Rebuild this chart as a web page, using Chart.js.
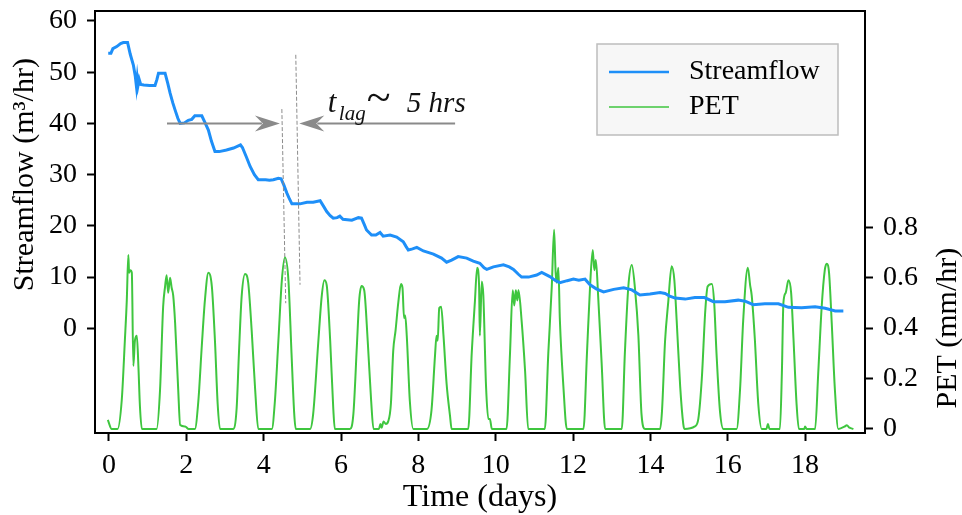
<!DOCTYPE html>
<html>
<head>
<meta charset="utf-8">
<title>Streamflow and PET</title>
<script src="https://cdn.jsdelivr.net/npm/chart.js@4/dist/chart.umd.min.js"></script>
<style>
  html, body { margin: 0; padding: 0; background: #fff; }
  #chart { display: block; }
</style>
</head>
<body>
<canvas id="chart" width="962" height="515"></canvas>
<script>
const SERIF = "'Liberation Serif', 'Times New Roman', serif";

// streamflow (m3/hr) against time in days
const flowDays = [
  -0.02, 0.05, 0.10, 0.20, 0.30, 0.37, 0.48, 0.55, 0.63, 0.68, 0.71, 0.73, 0.75, 0.78, 0.82, 0.90,
  1.05, 1.19, 1.24, 1.28, 1.45, 1.52, 1.58, 1.65, 1.71, 1.78, 1.84, 1.95, 2.05, 2.14, 2.22, 2.40,
  2.48, 2.57, 2.65, 2.74, 2.85, 3.04, 3.22, 3.40, 3.45, 3.55, 3.65, 3.76, 3.86, 4.05, 4.15, 4.25,
  4.38, 4.45, 4.52, 4.60, 4.67, 4.73, 4.94, 5.12, 5.28, 5.46, 5.55, 5.63, 5.72, 5.80, 5.90, 5.97,
  6.05, 6.28, 6.45, 6.53, 6.60, 6.66, 6.79, 6.90, 7.01, 7.09, 7.27, 7.44, 7.61, 7.68, 7.74, 7.85,
  7.96, 8.13, 8.39, 8.60, 8.73, 8.86, 9.03, 9.25, 9.42, 9.59, 9.70, 9.77, 9.94, 10.20, 10.35, 10.46,
  10.58, 10.67, 10.85, 11.06, 11.19, 11.40, 11.55, 11.66, 11.85, 12.01, 12.15, 12.31, 12.44, 12.60, 12.79, 13.05,
  13.31, 13.52, 13.73, 13.99, 14.25, 14.38, 14.50, 14.64, 14.90, 15.15, 15.40, 15.63, 15.93, 16.27, 16.45, 16.66,
  16.96, 17.31, 17.57, 17.91, 18.26, 18.52, 18.78, 18.99
];
const flowValues = [
  53.7, 53.7, 54.6, 55.0, 55.6, 55.8, 55.8, 53.5, 51.4, 49.2, 47.2, 48.8, 47.4, 48.6, 47.6, 47.5,
  47.4, 47.4, 48.6, 49.8, 49.8, 47.8, 45.9, 44.0, 42.6, 41.0, 40.0, 40.1, 40.6, 40.8, 41.5, 41.5,
  40.2, 38.7, 36.5, 34.5, 34.5, 34.8, 35.2, 35.8, 35.3, 33.5, 31.6, 30.0, 29.0, 29.0, 28.9, 29.0,
  29.3, 29.2, 28.0, 26.4, 25.2, 24.3, 24.3, 24.6, 24.6, 24.9, 23.8, 22.8, 22.0, 21.5, 21.6, 21.9,
  21.3, 21.1, 21.6, 21.5, 20.3, 19.2, 18.2, 18.2, 18.7, 18.0, 18.2, 17.8, 16.9, 16.0, 15.3, 15.5,
  15.8, 15.1, 14.5, 13.7, 12.9, 13.3, 14.0, 13.7, 13.1, 12.7, 11.8, 11.5, 12.0, 12.4, 12.0, 11.5,
  10.6, 10.0, 10.0, 10.4, 10.9, 10.1, 9.3, 8.9, 9.3, 9.6, 9.4, 9.6, 8.5, 7.7, 7.1, 7.6,
  7.9, 7.5, 6.5, 6.7, 7.0, 6.8, 6.3, 5.9, 5.7, 6.0, 6.0, 5.2, 5.2, 5.5, 5.3, 4.6,
  4.8, 4.8, 4.1, 4.0, 4.2, 3.9, 3.4, 3.4
];

// potential evapotranspiration (mm/hr), one row per day
const petDays = [
  -0.03, 0.07, 0.22, 0.33, 0.41, 0.46, 0.50, 0.52, 0.55, 0.59, 0.63, 0.67, 0.72, 0.76, 0.80, 0.85,
  1.23, 1.32, 1.40, 1.45, 1.49, 1.53, 1.58, 1.62, 1.66, 1.71, 1.79, 1.84, 1.97, 2.06,
  2.22, 2.31, 2.40, 2.48, 2.57, 2.66, 2.74, 2.81, 2.87,
  3.21, 3.30, 3.36, 3.43, 3.52, 3.60, 3.69, 3.78, 3.86,
  4.21, 4.29, 4.38, 4.47, 4.55, 4.64, 4.72, 4.79, 4.83,
  5.20, 5.28, 5.41, 5.50, 5.57, 5.63, 5.72, 5.80, 5.84,
  6.23, 6.32, 6.41, 6.47, 6.53, 6.60, 6.69, 6.78, 6.84,
  6.98, 7.02, 7.05, 7.10, 7.16, 7.22, 7.29, 7.35, 7.41, 7.48, 7.55, 7.59, 7.63, 7.66, 7.70, 7.78, 7.87,
  8.22, 8.34, 8.43, 8.47, 8.50, 8.54, 8.59, 8.65, 8.73, 8.82, 8.86,
  9.29, 9.38, 9.46, 9.52, 9.57, 9.59, 9.64, 9.68, 9.75, 9.81, 9.85, 9.90,
  10.28, 10.37, 10.44, 10.48, 10.52, 10.56, 10.59, 10.67, 10.76, 10.84,
  11.27, 11.36, 11.45, 11.51, 11.55, 11.58, 11.62, 11.66, 11.75, 11.84,
  12.27, 12.36, 12.44, 12.51, 12.55, 12.59, 12.65, 12.74, 12.83,
  13.26, 13.34, 13.43, 13.52, 13.60, 13.69, 13.77, 13.86,
  14.25, 14.30, 14.38, 14.46, 14.55, 14.62, 14.68, 14.77, 14.85, 14.88, 15.15, 15.24,
  15.33, 15.42, 15.48, 15.59, 15.65, 15.71, 15.80, 15.89,
  16.23, 16.32, 16.40, 16.52, 16.58, 16.62, 16.70, 16.79, 16.88, 17.00, 17.04, 17.08,
  17.35, 17.40, 17.44, 17.50, 17.57, 17.64, 17.70, 17.78, 17.84, 17.98, 18.00, 18.04,
  18.26, 18.34, 18.43, 18.51, 18.56, 18.62, 18.69, 18.77, 18.86, 19.03, 19.08, 19.15, 19.25
];
const petValues = [
  0.036, 0, 0, 0.115, 0.35, 0.51, 0.69, 0.62, 0.63, 0.62, 0.25, 0.35, 0.37, 0.25, 0.09, 0,
  0, 0.155, 0.485, 0.565, 0.61, 0.54, 0.60, 0.56, 0.53, 0.42, 0.155, 0.016, 0.01, 0,
  0, 0.11, 0.33, 0.51, 0.62, 0.565, 0.35, 0.10, 0,
  0, 0.08, 0.30, 0.525, 0.615, 0.58, 0.39, 0.155, 0,
  0, 0.11, 0.35, 0.59, 0.68, 0.59, 0.30, 0.06, 0,
  0, 0.06, 0.34, 0.525, 0.59, 0.57, 0.35, 0.08, 0,
  0, 0.06, 0.33, 0.51, 0.567, 0.55, 0.35, 0.11, 0,
  0, 0.02, 0.005, 0.03, 0.02, 0.03, 0.10, 0.31, 0.39, 0.50, 0.575, 0.56, 0.44, 0.45, 0.37, 0.11, 0,
  0, 0.075, 0.29, 0.37, 0.35, 0.48, 0.485, 0.37, 0.18, 0.05, 0,
  0, 0.30, 0.50, 0.64, 0.57, 0.37, 0.585, 0.53, 0.17, 0.04, 0.04, 0,
  0, 0.30, 0.55, 0.49, 0.55, 0.51, 0.55, 0.43, 0.23, 0,
  0, 0.30, 0.565, 0.79, 0.62, 0.58, 0.64, 0.43, 0.17, 0,
  0, 0.30, 0.565, 0.71, 0.63, 0.67, 0.525, 0.26, 0,
  0, 0.30, 0.565, 0.65, 0.56, 0.37, 0.06, 0,
  0, 0.07, 0.35, 0.50, 0.645, 0.59, 0.43, 0.17, 0.02, 0, 0.01, 0.04,
  0.20, 0.47, 0.565, 0.575, 0.50, 0.30, 0.07, 0,
  0, 0.16, 0.43, 0.64, 0.57, 0.53, 0.36, 0.10, 0, 0, 0.02, 0,
  0, 0.22, 0.50, 0.54, 0.59, 0.54, 0.36, 0.10, 0, 0, 0.01, 0,
  0, 0.22, 0.485, 0.63, 0.655, 0.62, 0.42, 0.16, 0, 0.01, 0.015, 0.005, 0
];

const dayTicks = [0, 2, 4, 6, 8, 10, 12, 14, 16, 18];
const flowTicks = [0, 10, 20, 30, 40, 50, 60];
const petTicks = [0, 0.2, 0.4, 0.6, 0.8];

// lag marker: two guide lines (day, flow) and the arrows pointing at them
const lagGuides = [
  [[4.47, 42.8], [4.57, 4.9]],
  [[4.83, 53.4], [4.94, 8.5]]
];
const lagArrowLevel = 40;
const lagArrows = [[1.50, 4.42], [8.95, 4.92]];
const lagLabelAt = [5.66, 42.3];

const toPoints = (xs, ys) => xs.map((d, i) => ({ x: d, y: ys[i] }));

function drawUpTitle(ctx, text, cx, cy) {
  ctx.save();
  ctx.translate(cx, cy);
  ctx.rotate(-Math.PI / 2);
  ctx.font = `30px ${SERIF}`;
  ctx.fillStyle = "#000";
  ctx.textAlign = "center";
  ctx.textBaseline = "middle";
  ctx.fillText(text, 0, 0);
  ctx.restore();
}

function arrowHead(ctx, tipX, tipY, dir) {
  ctx.beginPath();
  ctx.moveTo(tipX, tipY);
  ctx.lineTo(tipX - dir * 25, tipY - 8);
  ctx.lineTo(tipX - dir * 17, tipY);
  ctx.lineTo(tipX - dir * 25, tipY + 8);
  ctx.closePath();
  ctx.fill();
}

const extras = {
  id: "extras",
  afterDraw(chart) {
    const { ctx, chartArea: area, scales } = chart;
    const sx = scales.x, sy = scales.y, sy1 = scales.y1;
    ctx.save();

    // frame round the plot
    ctx.strokeStyle = "#000";
    ctx.lineWidth = 2;
    ctx.strokeRect(area.left, area.top, area.right - area.left, area.bottom - area.top);

    // dashed guides
    ctx.strokeStyle = "#8c8c8c";
    ctx.lineWidth = 1;
    ctx.setLineDash([4, 2]);
    lagGuides.forEach(([a, b]) => {
      ctx.beginPath();
      ctx.moveTo(sx.getPixelForValue(a[0]), sy.getPixelForValue(a[1]));
      ctx.lineTo(sx.getPixelForValue(b[0]), sy.getPixelForValue(b[1]));
      ctx.stroke();
    });
    ctx.setLineDash([]);

    // arrows
    const ay = sy.getPixelForValue(lagArrowLevel);
    ctx.strokeStyle = "#8a8a8a";
    ctx.fillStyle = "#8a8a8a";
    ctx.lineWidth = 2;
    lagArrows.forEach(([from, to]) => {
      const x0 = sx.getPixelForValue(from);
      const x1 = sx.getPixelForValue(to);
      const dir = Math.sign(x1 - x0);
      ctx.beginPath();
      ctx.moveTo(x0, ay);
      ctx.lineTo(x1 - dir * 18, ay);
      ctx.stroke();
      arrowHead(ctx, x1, ay, dir);
    });

    // t_lag label
    const tx = sx.getPixelForValue(lagLabelAt[0]);
    const ty = sy.getPixelForValue(lagLabelAt[1]);
    ctx.fillStyle = "#111";
    ctx.textAlign = "left";
    ctx.textBaseline = "alphabetic";
    ctx.font = `italic 31px ${SERIF}`;
    ctx.fillText("t", tx, ty);
    ctx.font = `italic 21px ${SERIF}`;
    ctx.fillText("lag", tx + 11, ty + 8);
    ctx.font = `44px ${SERIF}`;
    ctx.fillText("~", tx + 39, ty);
    ctx.font = `italic 29px ${SERIF}`;
    ctx.fillText("5 hrs", tx + 79, ty);

    // y titles, centred on the ticked span
    const midFlow = (sy.getPixelForValue(flowTicks[0]) + sy.getPixelForValue(flowTicks[flowTicks.length - 1])) / 2;
    const midPet = (sy1.getPixelForValue(petTicks[0]) + sy1.getPixelForValue(petTicks[petTicks.length - 1])) / 2;
    drawUpTitle(ctx, "Streamflow (m\u00B3/hr)", area.left - 70, midFlow);
    drawUpTitle(ctx, "PET (mm/hr)", area.right + 83, midPet);

    // legend
    const lx = area.right - 268, ly = area.top + 33, lw = 241, lh = 91;
    ctx.fillStyle = "#f7f7f7";
    ctx.fillRect(lx, ly, lw, lh);
    ctx.strokeStyle = "#bdbdbd";
    ctx.lineWidth = 1.5;
    ctx.strokeRect(lx, ly, lw, lh);
    ctx.font = `28px ${SERIF}`;
    ctx.textBaseline = "middle";
    chart.data.datasets.forEach((ds, i) => {
      const rowY = ly + 28 + i * 35;
      ctx.strokeStyle = ds.borderColor;
      ctx.lineWidth = ds.borderWidth - 0.3;
      ctx.beginPath();
      ctx.moveTo(lx + 12, rowY);
      ctx.lineTo(lx + 72, rowY);
      ctx.stroke();
      ctx.fillStyle = "#000";
      ctx.fillText(ds.label, lx + 92, rowY);
    });

    ctx.restore();
  }
};

const tickGrid = { display: true, drawOnChartArea: false, drawTicks: true, tickLength: 8, tickWidth: 2, tickColor: "#000" };
const tickFont = { family: SERIF, size: 28 };

// fixed axis bands so the plot box sits where it should
const fixBand = (size, horizontal) => s => {
  if (horizontal) { s.height = size; s.paddingLeft = 0; s.paddingRight = 0; }
  else { s.width = size; s.paddingTop = 0; s.paddingBottom = 0; }
};

new Chart(document.getElementById("chart"), {
  type: "line",
  data: {
    datasets: [
      {
        label: "Streamflow",
        data: toPoints(flowDays, flowValues),
        yAxisID: "y",
        borderColor: "#1e8ff8",
        borderWidth: 3,
        pointRadius: 0,
        tension: 0
      },
      {
        label: "PET",
        data: toPoints(petDays, petValues),
        yAxisID: "y1",
        borderColor: "#3fc63f",
        borderWidth: 2,
        pointRadius: 0,
        cubicInterpolationMode: "monotone"
      }
    ]
  },
  options: {
    responsive: false,
    animation: false,
    devicePixelRatio: 1,
    layout: { padding: { top: 11, left: 0, right: 0, bottom: 0 } },
    plugins: {
      legend: { display: false },
      tooltip: { enabled: false }
    },
    scales: {
      x: {
        type: "linear",
        min: -0.362,
        max: 19.55,
        grid: tickGrid,
        border: { display: false },
        ticks: { font: tickFont, color: "#000", padding: 8, maxRotation: 0, autoSkip: false },
        title: { display: true, text: "Time (days)", color: "#000", font: { family: SERIF, size: 32, lineHeight: 1.1 }, padding: 0 },
        afterBuildTicks: s => { s.ticks = dayTicks.map(v => ({ value: v })); },
        afterFit: fixBand(82, true)
      },
      y: {
        type: "linear",
        position: "left",
        min: -20.44,
        max: 61.95,
        grid: tickGrid,
        border: { display: false },
        ticks: { font: tickFont, color: "#000", padding: 10 },
        afterBuildTicks: s => { s.ticks = flowTicks.map(v => ({ value: v })); },
        afterFit: fixBand(95, false)
      },
      y1: {
        type: "linear",
        position: "right",
        min: -0.016,
        max: 1.658,
        grid: tickGrid,
        border: { display: false },
        ticks: { font: tickFont, color: "#000", padding: 10 },
        afterBuildTicks: s => { s.ticks = petTicks.map(v => ({ value: v })); },
        afterFit: fixBand(97, false)
      }
    }
  },
  plugins: [extras]
});
</script>
</body>
</html>
